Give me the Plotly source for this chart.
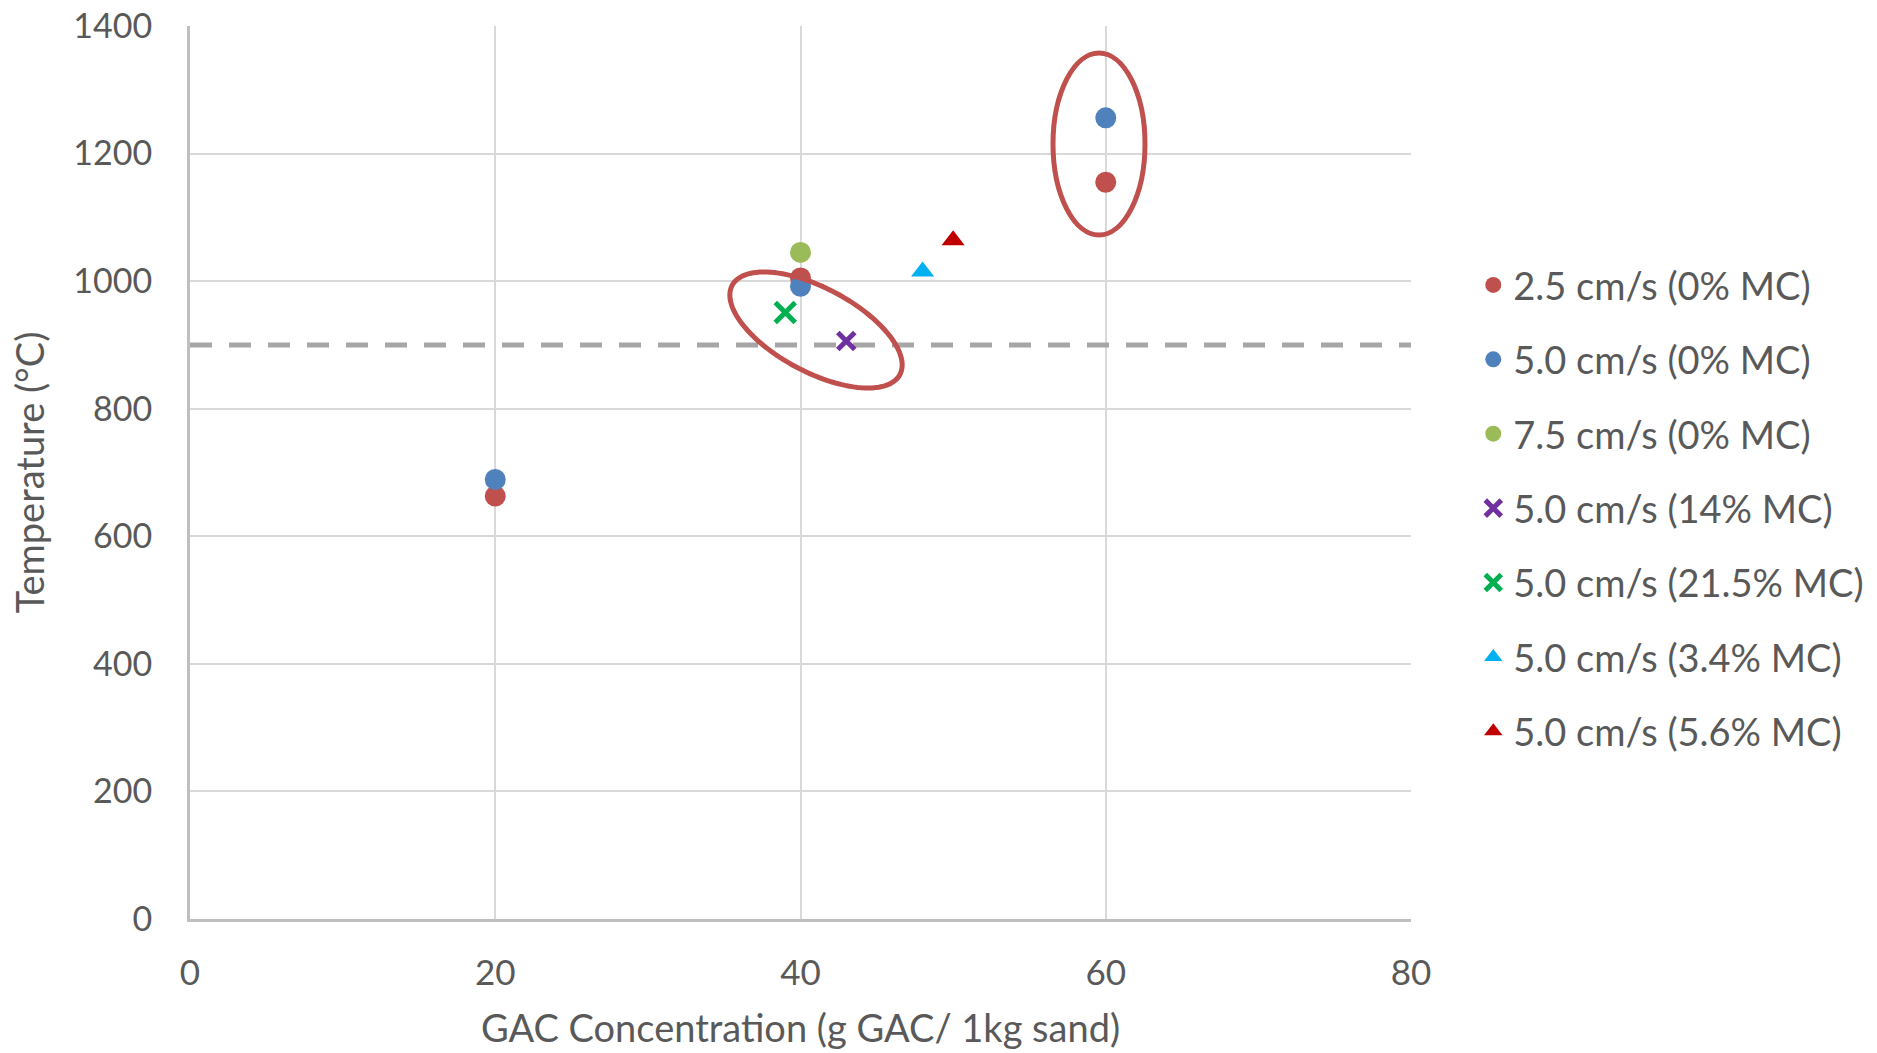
import math
import plotly.graph_objects as go

# ---- data ----
series_names = [
    "2.5 cm/s (0% MC)",
    "5.0 cm/s (0% MC)",
    "7.5 cm/s (0% MC)",
    "5.0 cm/s (14% MC)",
    "5.0 cm/s (21.5% MC)",
    "5.0 cm/s (3.4% MC)",
    "5.0 cm/s (5.6% MC)",
]
x_25_0 = [20, 40, 60]
y_25_0 = [663, 1005, 1155]
x_50_0 = [20, 40, 60]
y_50_0 = [689, 992, 1256]
x_75_0 = [40]
y_75_0 = [1045]
x_50_14 = [43]
y_50_14 = [906]
x_50_215 = [39]
y_50_215 = [951]
x_50_34 = [48]
y_50_34 = [1015]
x_50_56 = [50]
y_50_56 = [1064]

threshold_x = [0, 80]
threshold_y = [900, 900]

x_ticks = [0, 20, 40, 60, 80]
y_ticks = [0, 200, 400, 600, 800, 1000, 1200, 1400]

# ---- layout constants ----
W, H = 1877, 1053
ML, MT = 190, 26
PW, PH = 1221, 893
MR, MB = W - ML - PW, H - MT - PH
XR, YR = [0, 80], [0, 1400]
px_x = PW / (XR[1] - XR[0])
px_y = PH / (YR[1] - YR[0])
PAGE_LEFT = ML
PAGE_BOTTOM = MT + PH

FONT = "Lato"
TXT = "#595959"

styles = [
    dict(symbol="circle", color="#C0504D", size=21),
    dict(symbol="circle", color="#4F81BD", size=21),
    dict(symbol="circle", color="#9BBB59", size=21),
    dict(symbol="x-thin", color="#7030A0", size=17),
    dict(symbol="x-thin", color="#00B050", size=20),
    dict(symbol="triangle-up", color="#00B0F0", size=20),
    dict(symbol="triangle-up", color="#C00000", size=20),
]
xs = [x_25_0, x_50_0, x_75_0, x_50_14, x_50_215, x_50_34, x_50_56]
ys = [y_25_0, y_50_0, y_75_0, y_50_14, y_50_215, y_50_34, y_50_56]

fig = go.Figure()

fig.add_trace(go.Scatter(
    x=threshold_x, y=threshold_y, mode="lines",
    line=dict(color="#A6A6A6", width=5, dash="22px,17px"),
    showlegend=False, hoverinfo="skip",
))

for i, (name, st, xv, yv) in enumerate(zip(series_names, styles, xs, ys)):
    if st["symbol"] == "x-thin":
        marker = dict(symbol="x-thin", size=st["size"], color=st["color"],
                      line=dict(color=st["color"], width=5))
    else:
        marker = dict(symbol=st["symbol"], size=st["size"], color=st["color"],
                      line=dict(width=0))
    fig.add_trace(go.Scatter(
        x=xv, y=yv, mode="markers", name=name, marker=marker,
        legendgroup=f"g{i}",
    ))

# ---- annotation ellipses (drawn callouts) ----
def to_data(px, py):
    return XR[0] + (px - PAGE_LEFT) / px_x, YR[0] + (PAGE_BOTTOM - py) / px_y

def ellipse_path(cx_px, cy_px, a, b, theta_deg, n=120):
    t = math.radians(theta_deg)
    pts = []
    for k in range(n + 1):
        s = 2 * math.pi * k / n
        ex, ey = a * math.cos(s), b * math.sin(s)
        px = cx_px + ex * math.cos(t) - ey * math.sin(t)
        py = cy_px + ex * math.sin(t) + ey * math.cos(t)
        pts.append(to_data(px, py))
    return "M " + " L ".join(f"{p[0]:.4f},{p[1]:.3f}" for p in pts) + " Z"

ell_color = "#C0504D"
fig.add_shape(type="path", path=ellipse_path(816, 330, 95, 42, 28),
              xref="x", yref="y", line=dict(color=ell_color, width=5),
              fillcolor="rgba(0,0,0,0)", layer="above")
ex0, ey0 = to_data(1053, 235)
ex1, ey1 = to_data(1145, 53)
fig.add_shape(type="circle", xref="x", yref="y", x0=ex0, x1=ex1, y0=ey0, y1=ey1,
              line=dict(color=ell_color, width=5), layer="above")

fig.update_layout(
    width=W, height=H,
    margin=dict(l=ML, r=MR, t=MT, b=MB, autoexpand=False),
    paper_bgcolor="white", plot_bgcolor="white",
    font=dict(family=FONT, color=TXT, size=35),
    legend=dict(
        x=1.051, y=0.745, xanchor="left", yanchor="top",
        font=dict(family=FONT, size=38, color=TXT),
        tracegroupgap=22, traceorder="grouped",
        bgcolor="rgba(0,0,0,0)",
    ),
    xaxis=dict(
        range=XR, tickvals=x_ticks, showgrid=True, gridcolor="#D9D9D9", gridwidth=2,
        zeroline=False, showline=True, linecolor="#BFBFBF", linewidth=3,
        ticks="", ticklabelstandoff=21, automargin=False, ticklabeloverflow="allow",
        tickfont=dict(family=FONT, size=35, color=TXT),
        title=dict(text="GAC Concentration (g GAC/ 1kg sand)",
                   font=dict(family=FONT, size=38, color=TXT), standoff=25),
    ),
    yaxis=dict(
        range=YR, tickvals=y_ticks, showgrid=True, gridcolor="#D9D9D9", gridwidth=2,
        zeroline=False, showline=True, linecolor="#BFBFBF", linewidth=3,
        ticks="", ticklabelstandoff=28, automargin=False, ticklabeloverflow="allow",
        tickfont=dict(family=FONT, size=34, color=TXT),
        title=dict(text="Temperature (°C)",
                   font=dict(family=FONT, size=38, color=TXT), standoff=18),
    ),
    hovermode=False,
)

fig.write_html(
    "out.html",
    config=dict(displayModeBar=False),
    post_script="document.body.style.margin='0';document.body.style.overflow='hidden';",
)
